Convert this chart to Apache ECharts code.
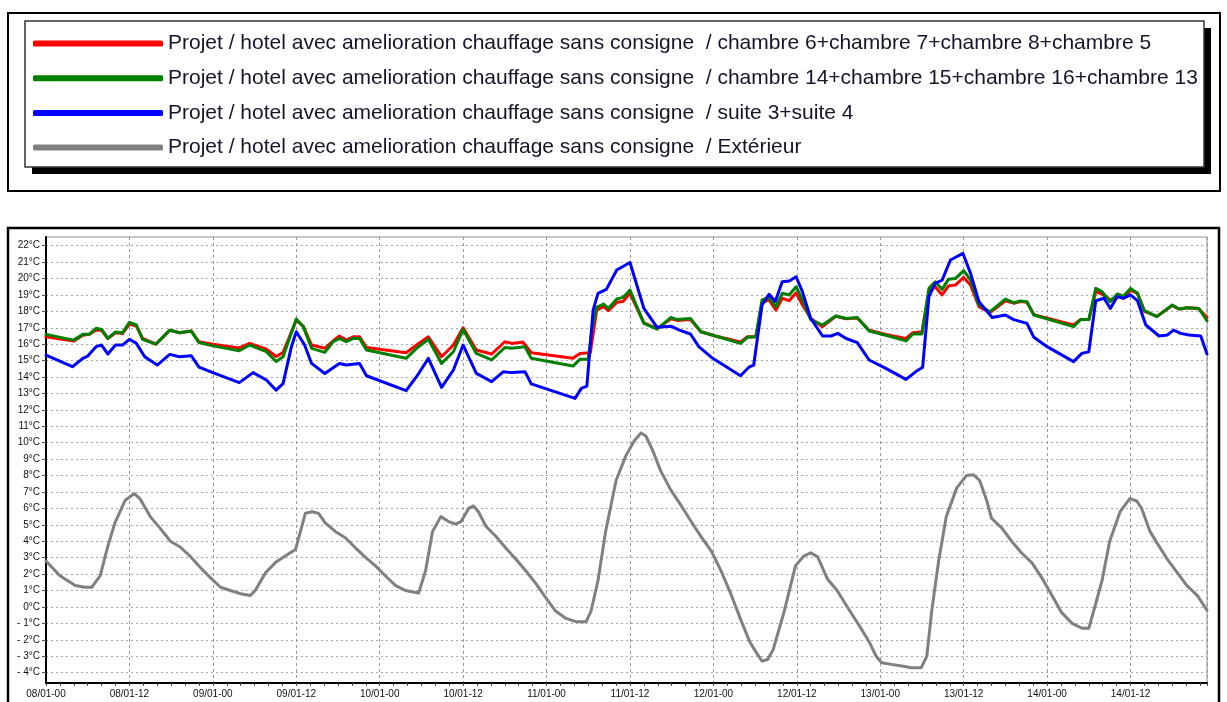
<!DOCTYPE html>
<html>
<head>
<meta charset="utf-8">
<title>Projet / hotel avec amelioration chauffage sans consigne</title>
<script src="https://cdn.jsdelivr.net/npm/echarts@6/dist/echarts.min.js"></script>
<style>
  html, body { margin: 0; padding: 0; background: #fff; }
  #chart { width: 1227px; height: 702px; }
</style>
</head>
<body>
<div id="chart"></div>
<script>
// Series names shown in the legend
const seriesNames = [
  'Projet / hotel avec amelioration chauffage sans consigne  / chambre 6+chambre 7+chambre 8+chambre 5',
  'Projet / hotel avec amelioration chauffage sans consigne  / chambre 14+chambre 15+chambre 16+chambre 13',
  'Projet / hotel avec amelioration chauffage sans consigne  / suite 3+suite 4',
  'Projet / hotel avec amelioration chauffage sans consigne  / Extérieur'
];
const seriesColors = ['#ff0000', '#008000', '#0000ff', '#808080'];

// Time axis: hours from 08/01 00h, labels every 12 h
const hourMin = 0;
const hourMax = 167;
const hourStep = 12;
const firstDay = 8;

// Temperature axis (°C)
const tempMin = -4;
const tempMax = 22;
const tempStep = 1;

// [hour, °C] readings
const chambres5to8 = [
  [0,16.45],[4,16.2],[5.3,16.55],[6.2,16.6],[7.2,16.86],[8,16.85],[8.9,16.35],[10,16.7],[11,16.65],[12,17.23],
  [13,17.1],[13.9,16.35],[15.8,16.0],[17.8,16.85],[19.2,16.7],[20.9,16.8],[22,16.15],[24,16.0],[27.8,15.77],
  [29.3,16.05],[31.7,15.7],[33.1,15.25],[34.1,15.5],[36,17.47],[37,17.1],[38.2,15.95],[40.1,15.75],[41.3,16.2],
  [42.2,16.5],[43.2,16.25],[44.2,16.45],[45.1,16.45],[46.1,15.8],[51.8,15.48],[53.3,15.95],[55,16.45],[56.9,15.24],
  [58.6,15.95],[60,17.0],[61.9,15.65],[64.1,15.4],[66,16.15],[67,16.05],[68.6,16.13],[69.8,15.48],[75.8,15.14],
  [76.8,15.44],[78.3,15.48],[79.2,18.05],[80.2,18.3],[80.9,18.05],[82.1,18.55],[83,18.6],[84,19.1],[86,17.3],
  [87.9,16.95],[89.9,17.55],[90.8,17.45],[92.7,17.5],[94.2,16.76],[96.3,16.5],[99.9,16.13],[100.9,16.46],
  [102.1,16.46],[103,18.55],[104,18.7],[105,18.08],[105.9,18.8],[106.9,18.65],[107.9,19.13],[108.8,18.4],
  [110,17.57],[111.7,17.07],[113.6,17.7],[115.1,17.55],[116.7,17.6],[118.4,16.85],[120.8,16.6],[123.7,16.35],
  [124.7,16.7],[126,16.76],[127,19.2],[127.9,19.5],[128.9,19.0],[129.8,19.54],[130.8,19.6],[132,20.07],[133,19.6],
  [134.2,18.28],[135.8,17.92],[138,18.65],[139.2,18.5],[140.2,18.6],[141.1,18.55],[142.1,17.8],[147.8,17.17],
  [148.8,17.5],[150,17.5],[151,19.2],[151.9,19.06],[153.1,18.69],[154.1,18.93],[155,18.8],[156,19.3],[157,19.1],
  [158,18.0],[159.8,17.7],[162,18.35],[163,18.14],[164.2,18.22],[165.8,18.18],[167,17.63]
];

const chambres13to16 = [
  [0,16.6],[4,16.25],[5.3,16.6],[6.2,16.6],[7.2,16.97],[8,16.9],[8.9,16.35],[10,16.75],[11,16.7],[12,17.33],
  [13,17.17],[13.9,16.3],[15.8,16.0],[17.8,16.86],[19.2,16.7],[20.9,16.8],[22,16.1],[24,15.9],[27.8,15.6],
  [29.3,15.95],[31.7,15.55],[33.1,14.95],[34.1,15.24],[36,17.53],[37,17.07],[38.2,15.75],[40.1,15.5],[41.3,16.15],
  [42.2,16.35],[43.2,16.15],[44.2,16.35],[45.1,16.35],[46.1,15.65],[51.8,15.14],[53.3,15.75],[55,16.3],[56.9,14.83],
  [58.6,15.54],[60,16.9],[61.9,15.44],[64.1,15.04],[66,15.8],[67,15.75],[68.9,15.85],[69.8,15.14],[75.8,14.67],
  [76.8,15.08],[78,15.08],[78.5,16.86],[79.2,18.24],[80.2,18.45],[80.9,18.18],[82.1,18.75],[83,18.85],[84,19.3],
  [86,17.27],[87.9,16.92],[89.9,17.63],[90.8,17.5],[92.7,17.57],[94.2,16.76],[96.3,16.5],[99.9,16.05],[100.9,16.42],
  [102.1,16.46],[103,18.7],[104,18.85],[105,18.28],[105.9,19.1],[106.9,19.0],[107.9,19.5],[108.8,18.7],[110,17.5],
  [111.7,17.17],[113.6,17.72],[115.1,17.57],[116.7,17.63],[118.4,16.8],[120.8,16.55],[123.7,16.2],[124.7,16.62],
  [126,16.62],[127,19.4],[127.9,19.8],[128.9,19.34],[129.8,19.95],[130.8,20.0],[132,20.48],[133,19.9],[134.2,18.39],
  [135.8,17.98],[138,18.75],[139.2,18.53],[140.2,18.63],[141.1,18.59],[142.1,17.78],[147.8,17.07],[148.8,17.5],
  [150,17.5],[151,19.4],[151.9,19.2],[153.1,18.59],[154.1,19.06],[155,18.93],[156,19.4],[157,19.1],[158,18.04],
  [159.8,17.68],[162,18.39],[163,18.14],[164.2,18.22],[165.8,18.18],[167,17.43]
];

const suites3and4 = [
  [0,15.34],[3.8,14.63],[5.3,15.14],[6,15.28],[7.2,15.85],[8,15.95],[8.9,15.4],[10,15.95],[11,15.95],[12,16.3],
  [13,16.05],[14.2,15.24],[16,14.73],[17.8,15.38],[19.2,15.24],[20.9,15.3],[22,14.6],[24,14.27],[27.8,13.66],
  [29.8,14.27],[31.7,13.82],[33.1,13.2],[34.1,13.6],[35.3,15.85],[36,16.76],[37.2,15.95],[38.2,14.83],[40.1,14.22],
  [42.2,14.83],[43.2,14.73],[45.1,14.83],[46.1,14.08],[51.8,13.17],[53.3,14.02],[55,15.14],[56.9,13.37],[58.6,14.43],
  [60,15.95],[61.9,14.22],[64.1,13.72],[65.8,14.33],[67,14.27],[68.9,14.33],[69.8,13.58],[76.1,12.7],[77,13.31],
  [77.8,13.45],[78.7,18.08],[79.4,19.1],[80.6,19.34],[82.1,20.52],[84,20.98],[86,18.18],[87.9,17.03],[89.9,17.1],
  [91.1,16.86],[92.7,16.62],[93.9,15.85],[95.9,15.14],[99.9,14.08],[101.1,14.6],[101.8,14.73],[103,18.4],[104,19.04],
  [104.9,18.6],[105.9,19.8],[106.9,19.85],[107.9,20.11],[108.8,19.2],[110,17.57],[111.7,16.5],[112.9,16.5],
  [113.9,16.66],[115.1,16.35],[116.7,16.1],[118.4,15.04],[120.8,14.53],[123.7,13.86],[125.3,14.39],[126.1,14.6],
  [127,18.9],[127.9,19.7],[128.9,19.9],[130.1,21.13],[131.9,21.53],[133,20.3],[134.2,18.59],[136.1,17.63],[138,17.78],
  [139.2,17.5],[141.1,17.27],[142.1,16.42],[144,15.85],[147.8,14.94],[149,15.44],[150,15.54],[151,18.65],[152.2,18.8],
  [153.1,18.18],[154.1,18.9],[155,18.8],[156,19.0],[157,18.65],[158.2,17.17],[160.1,16.5],[161.3,16.56],[162.2,16.86],
  [163.2,16.66],[164.4,16.56],[166.1,16.5],[167,15.4]
];

const exterieur = [
  [0,2.8],[2,1.9],[4.2,1.3],[5.6,1.2],[6.6,1.2],[7.8,1.9],[8.9,3.7],[9.9,5.1],[11.4,6.5],[12.7,6.9],[13.5,6.6],
  [15,5.5],[16.4,4.8],[17.9,4.0],[19.3,3.65],[20.7,3.1],[22.2,2.4],[23.6,1.8],[25.1,1.2],[26.5,1.0],[28,0.8],
  [29.4,0.7],[30.1,1.0],[31.6,2.1],[33,2.7],[34.4,3.1],[35.9,3.5],[36.6,4.6],[37.3,5.7],[38.3,5.8],[39.2,5.7],
  [40.2,5.1],[41.6,4.6],[43.1,4.2],[44.5,3.6],[46,3.0],[47.4,2.5],[48.8,1.9],[50.3,1.3],[51.7,1.0],[53.6,0.85],
  [54.6,2.2],[55.6,4.6],[56.8,5.5],[57.9,5.2],[58.9,5.05],[59.7,5.2],[60.8,6.0],[61.5,6.15],[62.2,5.8],[63.3,4.9],
  [64.7,4.3],[66.1,3.6],[67.6,2.9],[69,2.2],[70.5,1.4],[71.9,0.55],[73.3,-0.25],[74.8,-0.7],[76.2,-0.9],[77.7,-0.9],
  [78.4,-0.25],[79.4,1.6],[80.5,4.6],[82,7.7],[83.4,9.2],[84.6,10.1],[85.6,10.6],[86.3,10.4],[87.3,9.5],[88.4,8.3],
  [89.9,7.1],[91.4,6.15],[92.8,5.2],[94.2,4.3],[95.7,3.4],[97.1,2.2],[98.6,0.7],[100,-0.85],[101.2,-2.1],[102.2,-2.8],
  [103,-3.3],[103.8,-3.2],[104.6,-2.6],[106.2,-0.25],[107.8,2.5],[109,3.1],[110,3.3],[111,3.05],[112.4,1.7],
  [113.8,1.0],[115.4,-0.1],[117,-1.15],[118.5,-2.2],[119.4,-3.0],[120.2,-3.4],[121.6,-3.5],[123.1,-3.6],[124.5,-3.7],
  [125.9,-3.7],[126.7,-3.0],[127.4,-0.25],[128.4,2.8],[129.5,5.5],[131,7.25],[132.4,8.0],[133.4,8.05],[134.3,7.7],
  [135.3,6.5],[136,5.4],[137.5,4.8],[138.9,4.0],[140.3,3.3],[141.8,2.7],[143.2,1.8],[144.7,0.7],[146.1,-0.35],
  [147.6,-1.0],[149,-1.3],[150,-1.3],[150.7,-0.25],[151.9,1.6],[153,4.0],[154.5,5.8],[155.9,6.6],[156.9,6.45],
  [157.6,6.0],[158.8,4.6],[159.8,3.9],[161.3,2.9],[162.7,2.1],[164.1,1.3],[165.6,0.7],[167,-0.2]
];

const seriesData = [chambres5to8, chambres13to16, suites3and4, exterieur];

const pad2 = n => (n < 10 ? '0' : '') + n;
const hourLabel = h => pad2(firstDay + Math.floor(h / 24)) + '/01-' + pad2(h % 24);
const tempLabel = v => (v < 0 ? '- ' + (-v) : String(v)) + '°C';

const W = 1227, H = 702;
// Frame of the plotting area and the band that the temperature scale spans
const frame = { left: 46, top: 237, right: 1207, bottom: 683 };
const scaleTop = 245.7, scaleBottom = 672.6;

const axisFont = { fontFamily: 'Liberation Sans, Arial, sans-serif', fontSize: 10, color: '#111' };

const chart = echarts.init(document.getElementById('chart'), null, { renderer: 'canvas' });

chart.setOption({
  animation: false,
  backgroundColor: '#ffffff',
  graphic: [
    // legend panel: outer frame, drop shadow, white box
    { type: 'rect', z: 0, shape: { x: 8, y: 13, width: 1212, height: 178 },
      style: { fill: '#fff', stroke: '#000', lineWidth: 2 } },
    { type: 'rect', z: 0, shape: { x: 32, y: 28, width: 1179, height: 146 },
      style: { fill: '#000' } },
    { type: 'rect', z: 0, shape: { x: 25, y: 21, width: 1179, height: 146 },
      style: { fill: '#fff', stroke: '#333', lineWidth: 1.5 } },
    // chart panel frame
    { type: 'rect', z: 0, shape: { x: 8, y: 228, width: 1211, height: 490 },
      style: { fill: 'none', stroke: '#000', lineWidth: 2.5 } }
  ],
  legend: {
    data: seriesNames,
    orient: 'vertical',
    left: 33,
    top: 31.5,
    padding: 0,
    itemWidth: 130,
    itemHeight: 6,
    itemGap: 10.7,
    icon: 'roundRect',
    selectedMode: false,
    textStyle: {
      fontFamily: 'Liberation Sans, Arial, sans-serif',
      fontSize: 21,
      lineHeight: 24,
      color: '#15152a'
    }
  },
  grid: [
    { // frame grid: border, time axis and its grid lines
      left: frame.left, top: frame.top, right: W - frame.right, bottom: H - frame.bottom,
      show: true, backgroundColor: '#fff', borderColor: '#8c8c8c', borderWidth: 1,
      containLabel: false
    },
    { // data grid: temperature scale
      left: frame.left, top: scaleTop, right: W - frame.right, bottom: H - scaleBottom,
      containLabel: false
    }
  ],
  xAxis: [
    {
      gridIndex: 0, type: 'value', min: hourMin, max: hourMax, interval: hourStep,
      axisLine: { show: true, onZero: false, lineStyle: { color: '#000', width: 2 } },
      axisTick: { show: true, length: 3, lineStyle: { color: '#444' } },
      minorTick: { show: true, splitNumber: 6, length: 3, lineStyle: { color: '#444' } },
      axisLabel: Object.assign({ margin: 6, showMaxLabel: false, formatter: hourLabel }, axisFont),
      splitLine: { show: true, lineStyle: { color: '#9a9a9a', width: 1, type: [3, 3] } }
    },
    {
      gridIndex: 1, type: 'value', min: hourMin, max: hourMax, show: false
    }
  ],
  yAxis: [
    {
      gridIndex: 0, type: 'value', min: 0, max: 1,
      axisLine: { show: true, onZero: false, lineStyle: { color: '#000', width: 2 } },
      axisTick: { show: false }, axisLabel: { show: false }, splitLine: { show: false }
    },
    {
      gridIndex: 1, type: 'value', min: tempMin, max: tempMax, interval: tempStep,
      axisLine: { show: false },
      axisTick: { show: true, length: 4, lineStyle: { color: '#555' } },
      axisLabel: Object.assign({ margin: 6, formatter: tempLabel }, axisFont),
      splitLine: { show: true, lineStyle: { color: '#a8a8a8', width: 1, type: [2, 3] } }
    }
  ],
  series: seriesNames.map((name, i) => ({
    name: name,
    type: 'line',
    xAxisIndex: 1,
    yAxisIndex: 1,
    data: seriesData[i],
    showSymbol: false,
    symbol: 'none',
    color: seriesColors[i],
    lineStyle: { color: seriesColors[i], width: 3, cap: 'round', join: 'round' },
    z: 2 + i
  }))
});
</script>
</body>
</html>
